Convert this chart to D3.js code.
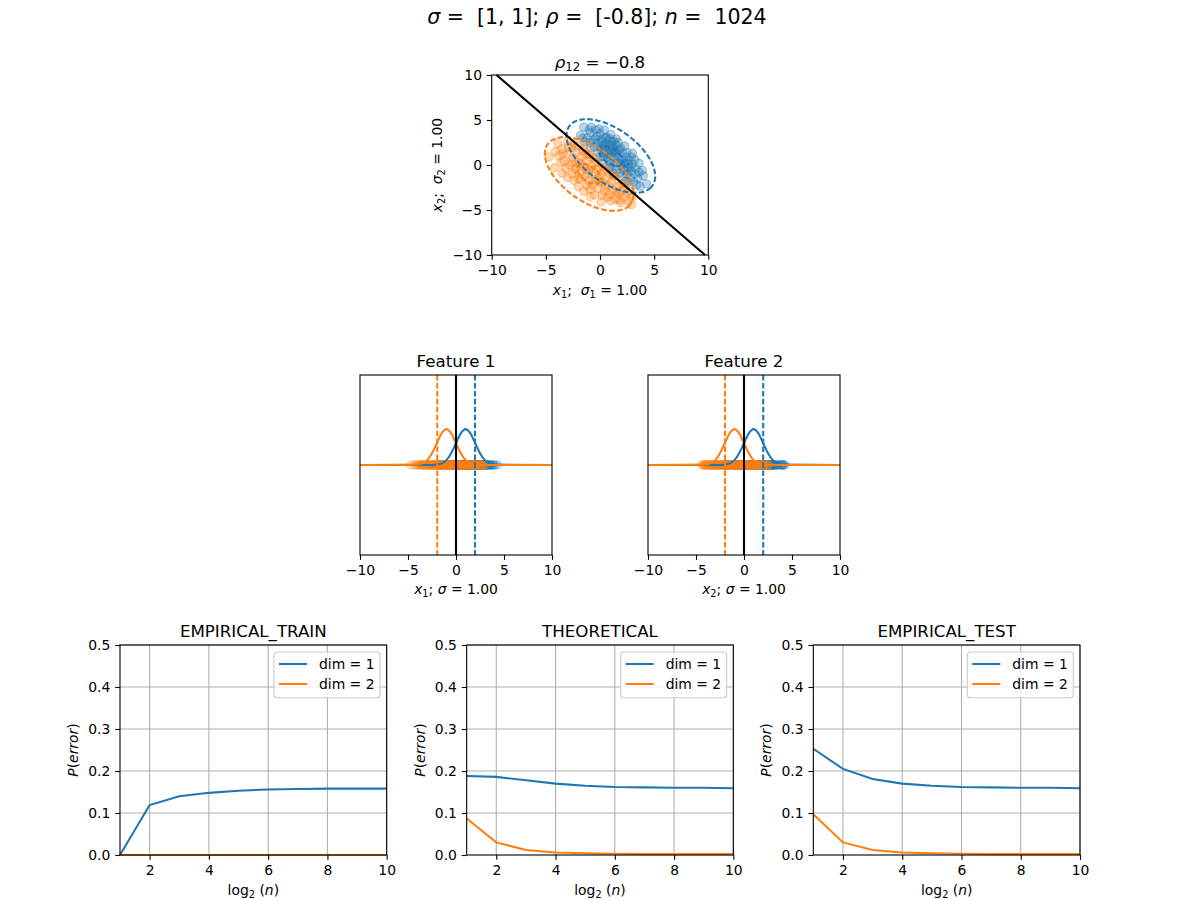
<!DOCTYPE html>
<html>
<head>
<meta charset="utf-8">
<script src="https://cdn.jsdelivr.net/npm/d3@7"></script>
<style>
body { margin: 0; background: #fff; }
text { font-family: "DejaVu Sans", sans-serif; white-space: pre; }
</style>
</head>
<body>
<div id="chart"></div>
<script>
const blue = "#1f77b4", orange = "#ff7f0e"

// class 1 (blue) and class 2 (orange) samples
const class1Points = [[-1.8,3.3],[-1.2,3.0],[-0.8,4.2],[-0.6,2.8],[-0.9,3.6],[-0.3,3.2],[0.0,3.5],[-0.2,2.4],[0.2,2.9],[0.3,2.2],
    [0.5,3.0],[0.6,2.5],[0.1,1.8],[0.8,2.2],[0.9,1.6],[0.4,1.5],[1.1,2.6],[1.2,1.9],[1.0,1.2],[0.7,0.9],
    [1.4,1.4],[1.5,2.2],[1.3,0.7],[1.7,1.0],[1.8,1.7],[1.6,0.3],[2.0,0.6],[2.1,1.3],[1.9,-0.1],[2.3,0.2],
    [2.4,0.9],[2.2,-0.6],[2.6,-0.3],[2.7,0.5],[2.5,-1.0],[2.9,-0.7],[3.0,0.1],[2.8,-1.4],[3.2,-1.0],[3.3,-0.4],
    [3.5,-1.5],[3.7,-2.4],[3.1,-1.9],[2.4,-1.8],[0.0,2.0],[-0.5,2.0],[0.3,0.9],[1.0,0.2],[1.5,-0.5],[2.0,-1.2],
    [-0.9,2.5],[-1.4,2.6],[0.6,3.1],[1.3,2.6],[1.9,1.9],[2.5,1.4],[3.2,0.6],[1.1,-0.3],[0.2,0.2],[0.8,0.5],
    [1.6,1.6],[2.8,-0.2],[0.9,2.9],[-0.2,1.4],[3.6,-0.8],[-0.4,3.9],[1.2,-0.9],[4.3,-2.1],[4.0,-1.2],[-1.5,4.2],
    [0.4,3.9],[1.5,2.9],[2.3,2.1],[3.0,1.3],[3.6,0.2],[-1.0,3.9],[-1.6,3.0],[-0.9,1.9],[0.0,0.9],[0.9,-0.2],
    [1.8,-0.9],[2.6,-1.9],[3.4,-2.2],[0.5,2.0],[1.0,2.2],[1.4,0.9],[2.2,0.4],[0.2,2.6],[-0.4,2.9],[1.7,2.5],
    [2.9,0.9],[3.9,-0.6],[-0.1,4.0],[0.8,1.3],[1.9,0.1],[2.6,0.1],[1.3,1.6],[0.6,1.2],[2.4,-0.5],[1.0,3.4]]
const class2Points = [[-4.7,0.9],[-3.5,1.8],[-3.0,1.2],[-3.3,0.4],[-2.6,1.9],[-2.5,0.8],[-2.8,0.0],[-2.2,1.4],[-2.0,0.3],[-2.3,-0.5],
    [-1.7,0.9],[-1.5,-0.2],[-1.9,-0.9],[-1.2,0.4],[-1.0,-0.6],[-1.4,-1.3],[-0.8,-0.1],[-0.6,-1.0],[-1.0,-1.8],[-0.3,-0.5],
    [-0.2,-1.5],[-0.7,-2.2],[0.1,-1.0],[0.3,-1.9],[-0.2,-2.6],[0.6,-1.4],[0.8,-2.3],[0.4,-2.9],[1.1,-1.9],[1.2,-2.8],
    [0.9,-3.3],[1.6,-2.4],[1.7,-3.2],[1.4,-3.8],[2.0,-2.9],[2.2,-3.6],[2.5,-3.1],[2.9,-4.4],[2.6,-4.0],[1.9,-4.2],
    [-3.8,1.0],[-2.9,2.0],[-1.3,1.2],[-0.4,0.3],[0.4,-0.6],[-1.8,-1.6],[-2.6,-1.0],[-0.9,-2.7],[0.2,-3.4],[-3.2,-0.4],
    [-2.1,2.1],[-1.6,1.6],[-0.9,0.9],[1.3,-1.2],[2.0,-2.1],[-0.1,-0.2],[-1.2,-2.3],[-2.0,-1.5],[0.7,-3.6],[-3.6,0.3],
    [-2.4,-1.7],[1.0,-4.0],[-1.5,-2.9],[-0.5,-3.3],[-4.1,1.5],[-3.9,2.4],
    [-3.0,2.6],[-2.4,2.4],[-1.5,1.9],[-0.5,0.8],[0.5,-0.3],[1.4,-1.2],[2.2,-2.0],[2.8,-2.9],[3.0,-3.6],[-4.2,-0.3],
    [-3.0,-1.4],[-2.0,-2.4],[-0.9,-3.5],[0.1,-4.1],[-1.0,1.2],[-3.4,1.3],[-2.6,0.3],[-1.8,0.2],[-1.1,-0.9],[-0.4,-1.6],
    [0.5,-2.4],[1.5,-3.0],[2.3,-2.6],[-2.2,-0.3],[-1.3,-0.4],[0.0,-1.9],[0.9,-1.0],[-3.5,-0.9],[1.8,-3.9]]
const classMeans = [[1, 1], [-1, -1]]
const ellipseAxes = [[1.38, 0.75], [5.1, 2.75]]   // semi-axes (major, minor) of inner and outer dashed rings
const boundaryLine = [[-9.55, 10], [9.7, -10]]

// gaussian pdf curves in the feature panels
const gaussX = [-10, -4, -3.5, -3, -2.5, -2, -1.5, -1, -0.5, 0, 0.5, 1, 1.5, 2, 2.5, 3, 3.5, 4, 10]
const gaussBlue = [0, 0, 0, 0.0001, 0.0009, 0.0044, 0.0175, 0.054, 0.1295, 0.242, 0.352, 0.399, 0.352, 0.242, 0.1295, 0.054, 0.0175, 0.0044, 0]
const gaussOrange = [0, 0.0044, 0.0175, 0.054, 0.1295, 0.242, 0.352, 0.399, 0.352, 0.242, 0.1295, 0.054, 0.0175, 0.0044, 0.0009, 0.0001, 0, 0, 0]
const featureCuts = [[-1.95, 1.98], [-1.98, 2.0]]   // [orange, blue] dashed lines

// error curves
const log2n = [1, 2, 3, 4, 5, 6, 7, 8, 9, 10]
const trainDim1 = [0, 0.119, 0.140, 0.148, 0.153, 0.156, 0.157, 0.158, 0.158, 0.158]
const trainDim2 = [0, 0, 0, 0, 0, 0, 0, 0, 0, 0]
const theoDim1 = [0.188, 0.186, 0.178, 0.170, 0.165, 0.162, 0.161, 0.160, 0.160, 0.159]
const theoDim2 = [0.087, 0.030, 0.012, 0.006, 0.004, 0.003, 0.002, 0.002, 0.002, 0.002]
const testDim1 = [0.253, 0.205, 0.181, 0.170, 0.165, 0.162, 0.161, 0.160, 0.160, 0.159]
const testDim2 = [0.097, 0.030, 0.012, 0.006, 0.004, 0.003, 0.002, 0.002, 0.002, 0.002]

const svg = d3.select('#chart')
    .append('svg')
    .attr('width', 1200)
    .attr('height', 900)

const tickLen = 4.86, tickFont = 13.9, lw = 2.08
const dash = "5.55,2.4"

// mathtext-ish label: parts = [text, style] where style is '' | 'i' | 'sub'
function mathText(g, x, y, parts, size, rotate) {
    let t = g.append('text')
        .attr('x', x).attr('y', y)
        .attr('font-size', size)
        .attr('text-anchor', 'middle')
        .attr('fill', 'black')
    if (rotate) t.attr('transform', `rotate(-90,${x},${y})`)
    let shift = 0
    parts.forEach(([s, style]) => {
        let target = style == 'sub' ? size * 0.22 : 0
        t.append('tspan')
            .attr('dy', target - shift)
            .attr('font-size', style == 'sub' ? size * 0.7 : size)
            .attr('font-style', style == 'i' ? 'italic' : 'normal')
            .text(s)
        shift = target
    })
    return t
}

function styleAxis(g) {
    g.select('.domain').remove()
    g.selectAll('.tick line').attr('stroke', 'black').attr('stroke-width', 1.1)
    g.selectAll('.tick text').attr('font-size', tickFont).attr('fill', 'black')
        .attr('font-family', '"DejaVu Sans", sans-serif')
}

function frame(g, x0, x1, y0, y1) {
    g.append('rect')
        .attr('x', x0).attr('y', y0)
        .attr('width', x1 - x0).attr('height', y1 - y0)
        .attr('fill', 'none').attr('stroke', 'black').attr('stroke-width', 1.1)
}

// suptitle
mathText(svg, 597, 24, [['σ', 'i'], [' =  [1, 1]; ', ''], ['ρ', 'i'], [' =  [-0.8]; ', ''], ['n', 'i'], [' =  1024', '']], 20.5)

// ---------- top scatter ----------
let sx = d3.scaleLinear().domain([-10, 10]).range([491.7, 708.3])
let sy = d3.scaleLinear().domain([-10, 10]).range([255, 75])
let scatterGroup = svg.append('g')

const classes = [[class1Points, blue], [class2Points, orange]]
classes.forEach(([pts, col]) => {
    scatterGroup.append('g')
        .selectAll('circle')
        .data(pts)
        .join('circle')
        .attr('cx', d => sx(d[0]))
        .attr('cy', d => sy(d[1]))
        .attr('r', 4.17)
        .attr('fill', col).attr('fill-opacity', 0.3)
        .attr('stroke', col).attr('stroke-opacity', 0.35).attr('stroke-width', 1.2)
})

// dashed covariance rings, major axis along (1,-1)
let ellipseLine = d3.line().x(d => sx(d[0])).y(d => sy(d[1])).curve(d3.curveLinearClosed)
let ts = d3.range(0, 2 * Math.PI, Math.PI / 60)
classMeans.forEach((m, i) => {
    ellipseAxes.forEach(([a, b]) => {
        let pts = ts.map(t => {
            let u = a * Math.cos(t) / Math.SQRT2, v = b * Math.sin(t) / Math.SQRT2
            return [m[0] + u + v, m[1] - u + v]
        })
        scatterGroup.append('path')
            .attr('d', ellipseLine(pts))
            .attr('fill', 'none')
            .attr('stroke', i == 0 ? blue : orange)
            .attr('stroke-width', lw)
            .attr('stroke-dasharray', dash)
    })
})

scatterGroup.append('path')
    .attr('d', d3.line().x(d => sx(d[0])).y(d => sy(d[1]))(boundaryLine))
    .attr('stroke', 'black').attr('stroke-width', lw).attr('fill', 'none')

frame(svg, 491.7, 708.3, 75, 255)
svg.append('g').attr('transform', 'translate(0,255)')
    .call(d3.axisBottom(sx).tickValues([-10, -5, 0, 5, 10]).tickSize(tickLen).tickPadding(tickLen))
    .call(styleAxis)
svg.append('g').attr('transform', 'translate(491.7,0)')
    .call(d3.axisLeft(sy).tickValues([-10, -5, 0, 5, 10]).tickSize(tickLen).tickPadding(tickLen))
    .call(styleAxis)
mathText(svg, 600, 67.5, [['ρ', 'i'], ['12', 'sub'], [' = −0.8', '']], 16.67)
mathText(svg, 600, 295, [['x', 'i'], ['1', 'sub'], [';  ', ''], ['σ', 'i'], ['1', 'sub'], [' = 1.00', '']], 13.9)
mathText(svg, 442, 165, [['x', 'i'], ['2', 'sub'], [';  ', ''], ['σ', 'i'], ['2', 'sub'], [' = 1.00', '']], 13.9, true)

// ---------- feature panels ----------
let fy = d3.scaleLinear().domain([-1, 1]).range([555, 375])
const featurePanels = [[360, 552, 'Feature 1', '1'], [648, 840, 'Feature 2', '2']]
featurePanels.forEach(([x0, x1, title, idx], k) => {
    let fx = d3.scaleLinear().domain([-10, 10]).range([x0, x1])
    let g = svg.append('g')
    classes.forEach(([pts, col]) => {
        g.append('g')
            .selectAll('circle')
            .data(pts)
            .join('circle')
            .attr('cx', d => fx(d[k]))
            .attr('cy', fy(0))
            .attr('r', 4.17)
            .attr('fill', col).attr('fill-opacity', 0.25)
            .attr('stroke', col).attr('stroke-opacity', 0.3).attr('stroke-width', 1.2)
    })
    let pdfLine = vals => d3.line().x((d, i) => fx(gaussX[i])).y(d => fy(d)).curve(d3.curveMonotoneX)(vals)
    g.append('path').attr('d', pdfLine(gaussBlue)).attr('fill', 'none').attr('stroke', blue).attr('stroke-width', lw)
    g.append('path').attr('d', pdfLine(gaussOrange)).attr('fill', 'none').attr('stroke', orange).attr('stroke-width', lw)
    g.append('line')
        .attr('x1', fx(0)).attr('x2', fx(0)).attr('y1', 375).attr('y2', 555)
        .attr('stroke', 'black').attr('stroke-width', lw)
    featureCuts[k].forEach((c, j) => {
        g.append('line')
            .attr('x1', fx(c)).attr('x2', fx(c)).attr('y1', 375).attr('y2', 555)
            .attr('stroke', j == 0 ? orange : blue).attr('stroke-width', lw)
            .attr('stroke-dasharray', dash)
    })
    frame(svg, x0, x1, 375, 555)
    svg.append('g').attr('transform', 'translate(0,555)')
        .call(d3.axisBottom(fx).tickValues([-10, -5, 0, 5, 10]).tickSize(tickLen).tickPadding(tickLen))
        .call(styleAxis)
    svg.append('text')
        .attr('x', (x0 + x1) / 2).attr('y', 366.5)
        .attr('text-anchor', 'middle').attr('font-size', 16.67)
        .text(title)
    mathText(svg, (x0 + x1) / 2, 594, [['x', 'i'], [idx, 'sub'], ['; ', ''], ['σ', 'i'], [' = 1.00', '']], 13.9)
})

// ---------- error panels ----------
let by = d3.scaleLinear().domain([0, 0.5]).range([855, 645])
const errorPanels = [
    [120, 'EMPIRICAL_TRAIN', trainDim1, trainDim2],
    [466.67, 'THEORETICAL', theoDim1, theoDim2],
    [813.33, 'EMPIRICAL_TEST', testDim1, testDim2]
]
errorPanels.forEach(([x0, title, d1, d2]) => {
    let x1 = x0 + 266.67
    let bx = d3.scaleLinear().domain([1, 10]).range([x0, x1])
    let g = svg.append('g')
    let xt = [2, 4, 6, 8, 10], yt = [0.1, 0.2, 0.3, 0.4, 0.5]
    g.selectAll('.gx').data(xt).join('line')
        .attr('x1', d => bx(d)).attr('x2', d => bx(d)).attr('y1', 645).attr('y2', 855)
        .attr('stroke', '#b0b0b0').attr('stroke-width', 1.1)
    g.selectAll('.gy').data(yt).join('line')
        .attr('class', 'gy')
        .attr('x1', x0).attr('x2', x1).attr('y1', d => by(d)).attr('y2', d => by(d))
        .attr('stroke', '#b0b0b0').attr('stroke-width', 1.1)
    let line = d3.line().x((d, i) => bx(log2n[i])).y(d => by(d))
    g.append('path').attr('d', line(d1)).attr('fill', 'none').attr('stroke', blue).attr('stroke-width', lw)
    g.append('path').attr('d', line(d2)).attr('fill', 'none').attr('stroke', orange).attr('stroke-width', lw)
    frame(svg, x0, x1, 645, 855)
    svg.append('g').attr('transform', 'translate(0,855)')
        .call(d3.axisBottom(bx).tickValues(xt).tickSize(tickLen).tickPadding(tickLen))
        .call(styleAxis)
    svg.append('g').attr('transform', `translate(${x0},0)`)
        .call(d3.axisLeft(by).tickValues([0, 0.1, 0.2, 0.3, 0.4, 0.5]).tickFormat(d3.format('.1f')).tickSize(tickLen).tickPadding(tickLen))
        .call(styleAxis)
    svg.append('text')
        .attr('x', (x0 + x1) / 2).attr('y', 636.5)
        .attr('text-anchor', 'middle').attr('font-size', 16.67)
        .text(title)
    mathText(svg, (x0 + x1) / 2, 895, [['log', ''], ['2', 'sub'], [' (', ''], ['n', 'i'], [')', '']], 13.9)
    mathText(svg, x0 - 42, 750, [['P', 'i'], ['(', ''], ['error', 'i'], [')', '']], 13.9, true)

    // legend
    let lg = svg.append('g').attr('transform', `translate(${x1 - 112.7},652)`)
    lg.append('rect')
        .attr('width', 106).attr('height', 45.7).attr('rx', 3)
        .attr('fill', 'white').attr('fill-opacity', 0.8)
        .attr('stroke', '#cccccc').attr('stroke-width', 1.1)
    ;[['dim = 1', blue], ['dim = 2', orange]].forEach(([label, col], i) => {
        lg.append('line')
            .attr('x1', 5).attr('x2', 33).attr('y1', 12 + i * 20).attr('y2', 12 + i * 20)
            .attr('stroke', col).attr('stroke-width', lw)
        lg.append('text')
            .attr('x', 45).attr('y', 17 + i * 20)
            .attr('font-size', 13.9)
            .text(label)
    })
})
</script>
</body>
</html>
